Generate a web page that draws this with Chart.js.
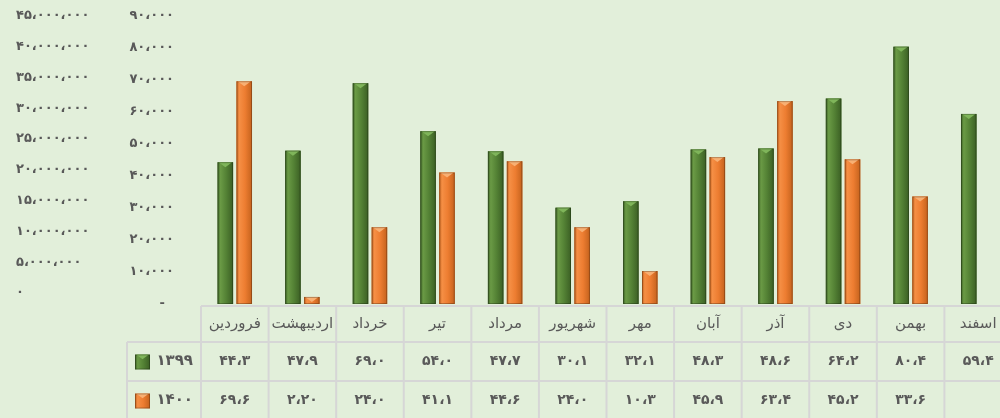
<!DOCTYPE html>
<html lang="fa">
<head>
<meta charset="UTF-8">
<title>۱۳۹۹ و ۱۴۰۰</title>
<script src="https://cdn.jsdelivr.net/npm/chart.js"></script>
<style>
  html, body { margin: 0; padding: 0; background: #e2efda; overflow: hidden; }
  .wrap { position: relative; width: 1012px; height: 418px; }
</style>
</head>
<body>
<div class="wrap"><canvas id="nemoodar"></canvas></div>

<script>
// داده ها
const months = ['فروردین', 'اردیبهشت', 'خرداد', 'تیر', 'مرداد', 'شهریور', 'مهر', 'آبان', 'آذر', 'دی', 'بهمن', 'اسفند'];
const seriesNames = ['۱۳۹۹', '۱۴۰۰'];
const values1399 = [44.3, 47.9, 69.0, 54.0, 47.7, 30.1, 32.1, 48.3, 48.6, 64.2, 80.4, 59.4];
const values1400 = [69.6, 2.20, 24.0, 41.1, 44.6, 24.0, 10.3, 45.9, 63.4, 45.2, 33.6, null];
const leftTicks = [0, 5000000, 10000000, 15000000, 20000000, 25000000, 30000000, 35000000, 40000000, 45000000];

const colors = [
    { base: '#548235', light: '#6a9a45', dark: '#3b5f24', tip: '#7fb55a' },
    { base: '#ed7d31', light: '#f58f45', dark: '#c4621d', tip: '#f8b073' }
];
const textColor = '#595959';
const lineColor = '#d6d6d6';
const font = "'DejaVu Sans', sans-serif";

function faDigits(s) {
    const d = '۰۱۲۳۴۵۶۷۸۹';
    return s.replace(/[0-9]/g, c => d[+c]).replace(/[,.]/g, '،');
}
function fmtInt(v) { return faDigits(Math.round(v).toLocaleString('en-US')); }
function fmtVal(v) { return faDigits(v.toPrecision(3)); }

// رسم ستون ها با سایه سه بعدی
function paintBar(ctx, left, top, w, h, c) {
    const g = ctx.createLinearGradient(left, 0, left + w, 0);
    g.addColorStop(0, c.dark);
    g.addColorStop(0.18, c.light);
    g.addColorStop(0.55, c.base);
    g.addColorStop(1, c.dark);
    ctx.fillStyle = g;
    ctx.fillRect(left, top, w, h);
    const t = Math.min(w * 0.32, h);
    ctx.fillStyle = c.tip;
    ctx.beginPath();
    ctx.moveTo(left + 1, top);
    ctx.lineTo(left + w - 1, top);
    ctx.lineTo(left + w / 2, top + t);
    ctx.closePath();
    ctx.fill();
    ctx.strokeStyle = 'rgba(0,0,0,0.25)';
    ctx.lineWidth = 1;
    ctx.strokeRect(left + 0.5, top + 0.5, w - 1, h - 1);
}

const barStyle = {
    id: 'barStyle',
    afterDatasetsDraw(chart) {
        const ctx = chart.ctx;
        ctx.save();
        chart.data.datasets.forEach((ds, i) => {
            chart.getDatasetMeta(i).data.forEach((el, j) => {
                if (ds.data[j] == null) return;
                const p = el.getProps(['x', 'y', 'base', 'width'], true);
                paintBar(ctx, p.x - p.width / 2, p.y, p.width, p.base - p.y, colors[i]);
            });
        });
        ctx.restore();
    }
};

// جدول داده زیر نمودار
const dataTable = {
    id: 'dataTable',
    afterDraw(chart) {
        const ctx = chart.ctx;
        const area = chart.chartArea;
        const x = chart.scales.x;
        const n = months.length;
        const cw = (area.right - area.left) / n;
        const rows = [area.bottom + 2, area.bottom + 38, area.bottom + 77, area.bottom + 116];
        const keyLeft = 127;
        ctx.save();
        ctx.strokeStyle = lineColor;
        ctx.lineWidth = 2;
        ctx.beginPath();
        ctx.moveTo(area.left, rows[0]); ctx.lineTo(area.right, rows[0]);
        for (let r = 1; r < rows.length; r++) {
            ctx.moveTo(keyLeft, rows[r]); ctx.lineTo(area.right, rows[r]);
        }
        for (let i = 0; i <= n; i++) {
            const xx = area.left + i * cw;
            ctx.moveTo(xx, rows[0]); ctx.lineTo(xx, rows[3]);
        }
        ctx.moveTo(keyLeft, rows[1]); ctx.lineTo(keyLeft, rows[3]);
        ctx.stroke();

        ctx.fillStyle = textColor;
        ctx.textAlign = 'center';
        ctx.textBaseline = 'middle';
        const series = [values1399, values1400];
        months.forEach((m, i) => {
            const cx = x.getPixelForValue(i);
            ctx.font = '15px ' + font;
            ctx.fillText(m, cx, (rows[0] + rows[1]) / 2);
            ctx.font = 'bold 14px ' + font;
            series.forEach((s, k) => {
                if (s[i] == null) return;
                ctx.fillText(fmtVal(s[i]), cx, (rows[k + 1] + rows[k + 2]) / 2);
            });
        });

        // کلید رنگ ها
        seriesNames.forEach((name, k) => {
            const cy = (rows[k + 1] + rows[k + 2]) / 2;
            paintBar(ctx, 135, cy - 7, 15, 15, colors[k]);
            ctx.fillStyle = textColor;
            ctx.font = 'bold 15px ' + font;
            ctx.textAlign = 'right';
            ctx.fillText(name, 193, cy);
        });
        ctx.restore();
    }
};

new Chart(document.getElementById('nemoodar'), {
    type: 'bar',
    data: {
        labels: months,
        datasets: [
            { label: seriesNames[0], data: values1399, backgroundColor: colors[0].base, yAxisID: 'y' },
            { label: seriesNames[1], data: values1400, backgroundColor: colors[1].base, yAxisID: 'y' }
        ]
    },
    options: {
        responsive: true,
        maintainAspectRatio: false,
        animation: false,
        layout: { padding: { top: 16, bottom: 114, left: 16, right: 0 } },
        datasets: { bar: { categoryPercentage: 0.56, barPercentage: 0.82 } },
        plugins: { legend: { display: false }, tooltip: { enabled: false } },
        scales: {
            x: { display: false },
            y: {
                position: 'left',
                weight: 0,
                min: 0,
                max: 90,
                border: { display: false },
                grid: { display: false, drawTicks: false },
                ticks: {
                    stepSize: 10,
                    padding: 27,
                    color: textColor,
                    font: { family: font, size: 13, weight: 'bold' },
                    callback: v => v === 0 ? '-  ' : fmtInt(v * 1000)
                },
                afterFit: s => { s.width = 101; s.paddingTop = 0; s.paddingBottom = 0; }
            },
            y2: {
                position: 'left',
                weight: 1,
                min: -1787000,
                max: 45000000,
                border: { display: false },
                grid: { display: false, drawTicks: false },
                afterBuildTicks: s => { s.ticks = leftTicks.map(v => ({ value: v })); },
                ticks: {
                    crossAlign: 'far',
                    color: textColor,
                    font: { family: font, size: 13, weight: 'bold' },
                    callback: v => fmtInt(v)
                },
                afterFit: s => { s.width = 84; s.paddingTop = 0; s.paddingBottom = 0; }
            }
        }
    },
    plugins: [barStyle, dataTable]
});
</script>
</body>
</html>
